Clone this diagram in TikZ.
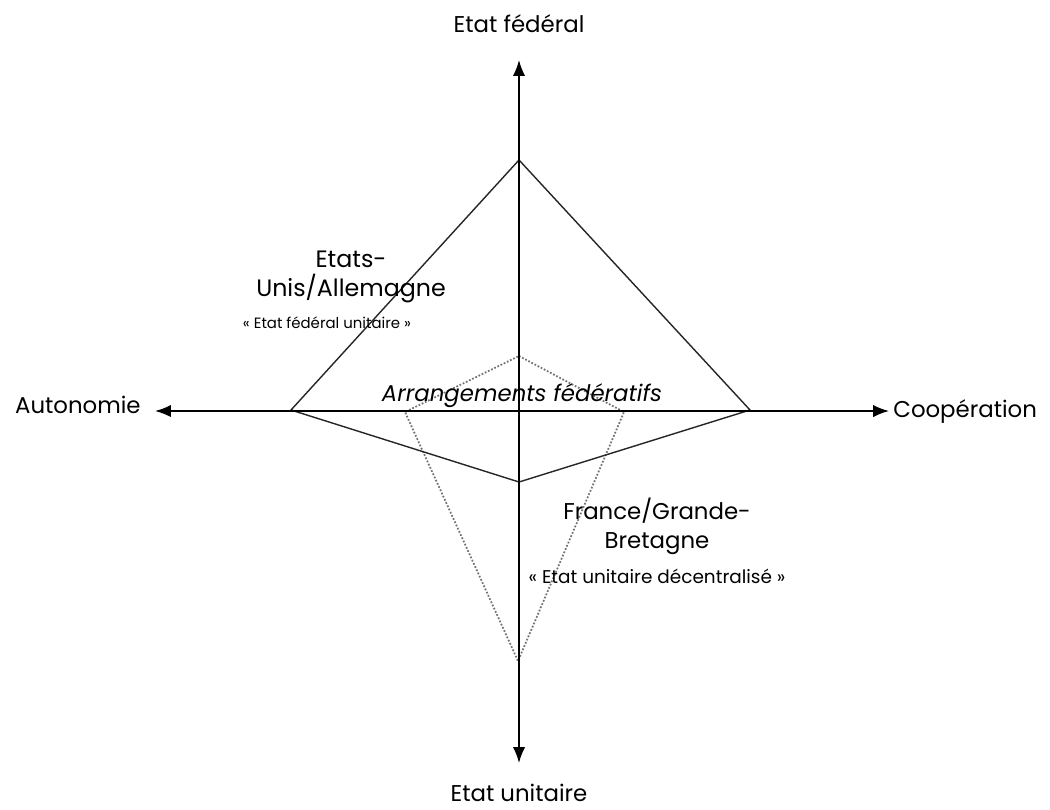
\documentclass[tikz,border=0pt]{standalone}
\usepackage{fontspec}
\setmainfont{Poppins}
\usetikzlibrary{arrows.meta, positioning}
\tikzset{
  axis/.style = {line width=1pt, -{Latex[length=9pt,width=7pt]}},
  solidquad/.style = {line width=0.8pt, black!85},
  dottedquad/.style = {line width=1pt, densely dotted, black!55},
  axislabel/.style = {font=\fontsize{13}{15}\selectfont, inner sep=0pt},
  countrylabel/.style = {font=\fontsize{13.5}{16.5}\selectfont, align=center, inner sep=0pt},
  quotelabel/.style = {font=\fontsize{8.5}{10}\selectfont, inner sep=0pt}
}

\begin{document}
\begin{tikzpicture}[x=0.02cm, y=-0.02cm]
\useasboundingbox (0,0) rectangle (1050,809);

% Coordinates
\coordinate (centre) at (519,411);
\coordinate (topend) at (519,60);
\coordinate (bottomend) at (519,763);
\coordinate (leftend) at (155,411);
\coordinate (rightend) at (889,411);

\coordinate (fedtop) at (519,160);
\coordinate (fedleft) at (291,410);
\coordinate (fedbottom) at (519,482);
\coordinate (fedright) at (750,410);

\coordinate (unitop) at (519,356);
\coordinate (unileft) at (405,412);
\coordinate (unibottom) at (518,661);
\coordinate (uniright) at (624,412);

% Quadrilaterals
\draw [dottedquad] (unitop) -- (uniright) -- (unibottom) -- (unileft) -- cycle;
\draw [solidquad] (fedtop) -- (fedright) -- (fedbottom) -- (fedleft) -- cycle;

% Axes
\draw [axis] (centre) -- (topend);
\draw [axis] (centre) -- (bottomend);
\draw [axis] (centre) -- (leftend);
\draw [axis] (centre) -- (rightend);

% Labels
\node (federal) [axislabel] at (519,24) {Etat fédéral};
\node (unitaire) [axislabel] at (519,793) {Etat unitaire};
\node (autonomie) [axislabel, anchor=east] at (141,405) {Autonomie};
\node (cooperation) [axislabel, anchor=west] at (893,412) {Coopération};

\node (usa) [countrylabel] at (351,277) {Etats-\\Unis/Allemagne};
\node (usaquote) [quotelabel] at (327,323) {« Etat fédéral unitaire »};

\node (arrangements) [axislabel, font=\fontsize{13}{15}\selectfont\itshape] at (522,396) {Arrangements fédératifs};

\node (france) [countrylabel, font=\fontsize{13}{16.5}\selectfont] at (657,526) {France/Grande-\\Bretagne};
\node (francequote) [quotelabel, font=\fontsize{10.5}{12}\selectfont] at (657,576) {« Etat unitaire décentralisé »};

\end{tikzpicture}
\end{document}
